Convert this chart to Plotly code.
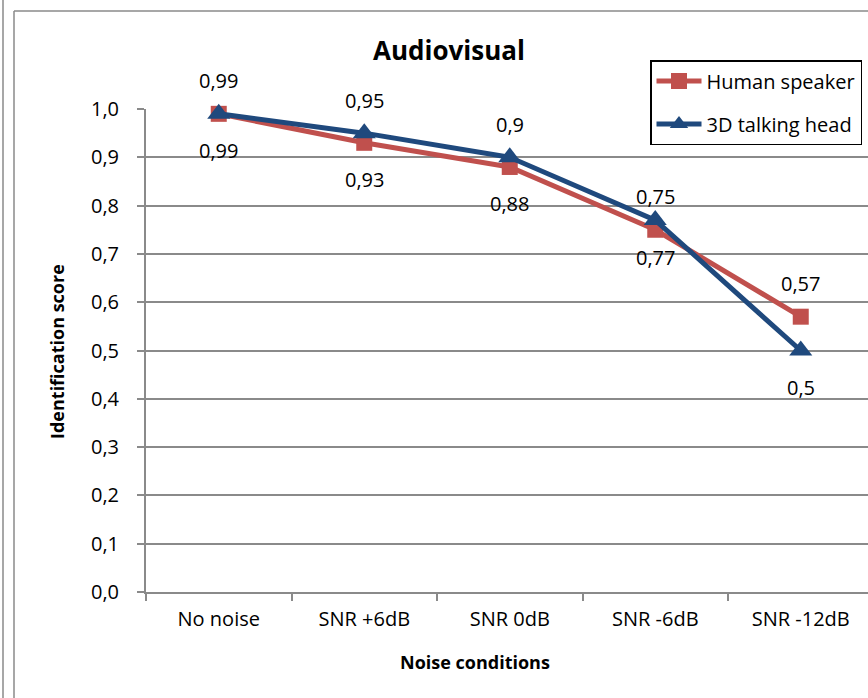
import plotly.graph_objects as go

# ---- data ----
categories = ["No noise", "SNR +6dB", "SNR 0dB", "SNR -6dB", "SNR -12dB"]
human_speaker = [0.99, 0.93, 0.88, 0.75, 0.57]
talking_head = [0.99, 0.95, 0.90, 0.77, 0.50]
y_ticks = [0.0, 0.1, 0.2, 0.3, 0.4, 0.5, 0.6, 0.7, 0.8, 0.9, 1.0]

# ---- style ----
FONT = "Open Sans"
RED = "#C0504D"
BLUE = "#1F497D"
GRID = "#8A8A8A"
human_label_pos = ["below", "below", "below", "above", "above"]
head_label_pos = ["above", "above", "above", "below", "below"]

W, H = 868, 698
L, R, T, B = 146, 0, 109, 106
pw = W - L - R
ph = H - T - B


def px_x(x):
    return (x - L) / pw


def px_y(y):
    return (H - B - y) / ph


def fmt(v):
    return f"{v:g}".replace(".", ",")


fig = go.Figure()
fig.add_trace(go.Scatter(
    x=categories, y=human_speaker, name="Human speaker", mode="lines+markers",
    line=dict(color=RED, width=5),
    marker=dict(symbol="square", size=16, color=RED),
    legendgroup="a", cliponaxis=False,
))
fig.add_trace(go.Scatter(
    x=categories, y=talking_head, name="3D talking head", mode="lines+markers",
    line=dict(color=BLUE, width=5),
    marker=dict(symbol="triangle-up", size=20, color=BLUE),
    legendgroup="b", cliponaxis=False,
))

annotations = []
for vals, poss in ((human_speaker, human_label_pos), (talking_head, head_label_pos)):
    for c, v, p in zip(categories, vals, poss):
        annotations.append(dict(
            x=c, y=v, xref="x", yref="y", text=fmt(v), showarrow=False,
            xanchor="center", yanchor="middle",
            yshift=33 if p == "above" else -37,
            font=dict(family=FONT, size=20, color="black"),
        ))

annotations += [
    dict(text="<b>Audiovisual</b>", x=px_x(449), y=px_y(50), xref="paper", yref="paper",
         xanchor="center", yanchor="middle",
         showarrow=False, font=dict(family=FONT, size=26, color="black")),
    dict(text="<b>Identification score</b>", x=px_x(57), y=px_y(352), xref="paper", yref="paper",
         xanchor="center", yanchor="middle",
         showarrow=False, textangle=-90, font=dict(family=FONT, size=18, color="black")),
    dict(text="<b>Noise conditions</b>", x=px_x(475), y=px_y(662), xref="paper", yref="paper",
         xanchor="center", yanchor="middle",
         showarrow=False, font=dict(family=FONT, size=18, color="black")),
]

shapes = [
    dict(type="line", xref="paper", yref="paper", x0=px_x(3), x1=px_x(3), y0=px_y(0), y1=px_y(H),
         line=dict(color=GRID, width=1.5)),
    dict(type="line", xref="paper", yref="paper", x0=px_x(14), x1=px_x(14), y0=px_y(11), y1=px_y(H),
         line=dict(color=GRID, width=1.5)),
    dict(type="line", xref="paper", yref="paper", x0=px_x(14), x1=px_x(W + 5), y0=px_y(11), y1=px_y(11),
         line=dict(color=GRID, width=1.5)),
]

fig.update_layout(
    width=W, height=H,
    margin=dict(l=L, r=R, t=T, b=B, pad=0),
    paper_bgcolor="white", plot_bgcolor="white",
    separators=",.",
    font=dict(family=FONT, size=19, color="black"),
    showlegend=True,
    legend=dict(
        x=px_x(650), y=px_y(60), xanchor="left", yanchor="top",
        bordercolor="black", borderwidth=1.5, bgcolor="white",
        font=dict(family=FONT, size=20, color="black"),
        itemwidth=45, tracegroupgap=14, traceorder="grouped",
    ),
    annotations=annotations,
    shapes=shapes,
    xaxis=dict(
        type="category", range=[-0.5, -0.5 + pw / 145.5],
        tickson="boundaries", ticks="outside", ticklen=7, tickwidth=1.5, tickcolor=GRID,
        showline=True, linecolor=GRID, linewidth=2,
        showgrid=False, ticklabelstandoff=8,
        tickfont=dict(family=FONT, size=20, color="black"),
    ),
    yaxis=dict(
        range=[0, 1.0], tickvals=y_ticks, tickformat=".1f",
        ticks="outside", ticklen=7, tickwidth=1.5, tickcolor=GRID,
        showline=True, linecolor=GRID, linewidth=2,
        showgrid=True, gridcolor=GRID, gridwidth=1.5, zeroline=False,
        ticklabelstandoff=14,
        tickfont=dict(family=FONT, size=20, color="black"),
    ),
)

fig.write_html("out.html", config={"displayModeBar": False})
